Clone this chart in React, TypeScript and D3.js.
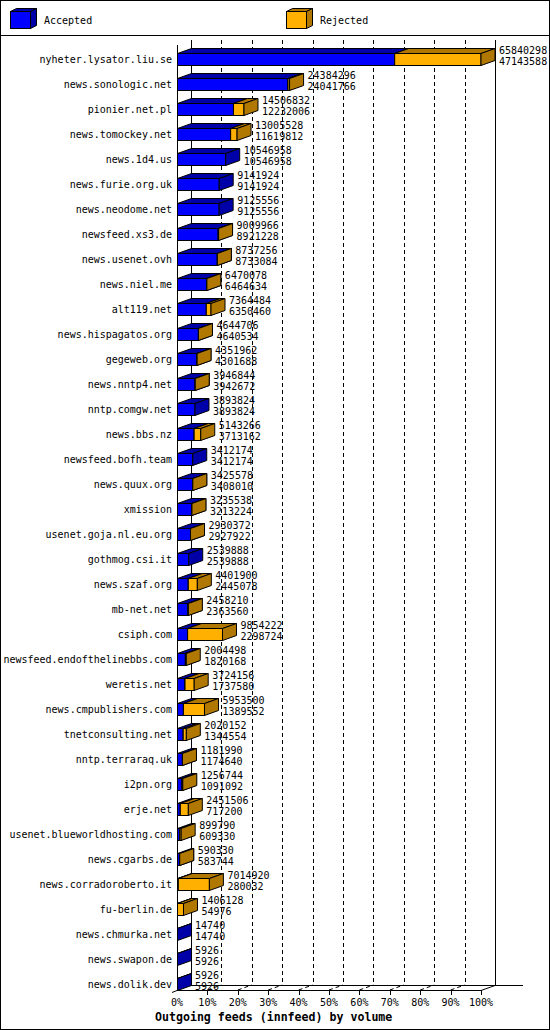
import React, { useEffect } from 'react';
import * as d3 from 'd3';

// innfeed outgoing volume per peer: total offered and accepted
const peers = [
  'nyheter.lysator.liu.se', 'news.sonologic.net', 'pionier.net.pl', 'news.tomockey.net',
  'news.1d4.us', 'news.furie.org.uk', 'news.neodome.net', 'newsfeed.xs3.de',
  'news.usenet.ovh', 'news.niel.me', 'alt119.net', 'news.hispagatos.org',
  'gegeweb.org', 'news.nntp4.net', 'nntp.comgw.net', 'news.bbs.nz',
  'newsfeed.bofh.team', 'news.quux.org', 'xmission', 'usenet.goja.nl.eu.org',
  'gothmog.csi.it', 'news.szaf.org', 'mb-net.net', 'csiph.com',
  'newsfeed.endofthelinebbs.com', 'weretis.net', 'news.cmpublishers.com', 'tnetconsulting.net',
  'nntp.terraraq.uk', 'i2pn.org', 'erje.net', 'usenet.blueworldhosting.com',
  'news.cgarbs.de', 'news.corradoroberto.it', 'fu-berlin.de', 'news.chmurka.net',
  'news.swapon.de', 'news.dolik.dev',
];

const totals = [
  65840298, 24384296, 14506832, 13005528,
  10546958, 9141924, 9125556, 9009966,
  8737256, 6470078, 7364484, 4644706,
  4351962, 3946844, 3893824, 5143266,
  3412174, 3425578, 3235538, 2930372,
  2539888, 4401900, 2458210, 9854222,
  2004498, 3724156, 5953500, 2020152,
  1181990, 1256744, 2451506, 899790,
  590330, 7014920, 1406128, 14740,
  5926, 5926,
];

const accepted = [
  47143588, 24041766, 12232006, 11619812,
  10546958, 9141924, 9125556, 8921228,
  8733084, 6464634, 6350460, 4640534,
  4301688, 3942672, 3893824, 3713162,
  3412174, 3408010, 3213224, 2927922,
  2539888, 2445078, 2363560, 2298724,
  1820168, 1737580, 1389552, 1344554,
  1174640, 1091092, 717200, 609330,
  583744, 280032, 54976, 14740,
  5926, 5926,
];

const pctTicks = [0, 10, 20, 30, 40, 50, 60, 70, 80, 90, 100];

const W = 550;
const H = 1030;
const DX = 14; // 3d depth
const DY = 5;
const FONT = "'DejaVu Sans Mono', 'Liberation Mono', monospace";

const BLUE = '#0000ff';
const BLUE_DARK = '#0000a8';
const ORANGE = '#ffb000';
const ORANGE_DARK = '#b07800';

const Box = ({ x0, x1, y0, y1, face, dark }: any) => {
  const top = `M${x0},${y0}L${x1},${y0}L${x1 + DX},${y0 - DY}L${x0 + DX},${y0 - DY}Z`;
  const side = `M${x1},${y0}L${x1 + DX},${y0 - DY}L${x1 + DX},${y1 - DY}L${x1},${y1}Z`;
  return (
    <g stroke="#000" strokeWidth={1} strokeLinejoin="miter">
      <rect x={x0} y={y0} width={Math.max(0, x1 - x0)} height={y1 - y0} fill={face} />
      <path d={top} fill={dark} />
      <path d={side} fill={dark} />
    </g>
  );
};

export default function App() {
  useEffect(() => {
    document.body.style.margin = '0';
  }, []);

  const x = d3.scaleLinear().domain([0, d3.max(totals) as number]).range([177, 481]);
  const pct = d3.scaleLinear().domain([0, 100]).range([177, 481]);
  const y = d3.scaleBand<string>().domain(peers).range([46.5, 996.5]).paddingInner(0);
  const half = y.bandwidth() / 2;

  const floorY = 990;
  const backTop = 40;

  return (
    <svg width={W} height={H} style={{ display: 'block', background: '#fff' }} fontFamily={FONT}>
      <rect x={0.5} y={0.5} width={W - 1} height={H - 1} fill="#fff" stroke="#000" />

      {/* legend */}
      <line x1={0} x2={W} y1={35.5} y2={35.5} stroke="#000" />
      {[
        { lx: 10, label: 'Accepted', face: BLUE, dark: BLUE_DARK },
        { lx: 286, label: 'Rejected', face: ORANGE, dark: ORANGE_DARK },
      ].map(l => (
        <g key={l.label}>
          <g stroke="#000">
            <rect x={l.lx + 0.5} y={11.5} width={20} height={17} fill={l.face} />
            <path d={`M${l.lx + 0.5},11.5L${l.lx + 20.5},11.5L${l.lx + 26.5},8.5L${l.lx + 6.5},8.5Z`} fill={l.dark} />
            <path d={`M${l.lx + 20.5},11.5L${l.lx + 26.5},8.5L${l.lx + 26.5},25.5L${l.lx + 20.5},28.5Z`} fill={l.dark} />
          </g>
          <text x={l.lx + 34} y={23.5} fontSize={10} fill="#000">{l.label}</text>
        </g>
      ))}

      {/* back plane grid */}
      <line x1={191.5} x2={191.5} y1={backTop} y2={floorY - DY} stroke="#000" />
      <line x1={495.5} x2={495.5} y1={backTop} y2={floorY - DY} stroke="#000" />
      {pctTicks.filter(p => p > 0 && p < 100).map(p => (
        <g key={p} stroke="#000" strokeDasharray="4,3">
          <line x1={Math.round(pct(p) + DX) + 0.5} x2={Math.round(pct(p) + DX) + 0.5} y1={backTop} y2={floorY - DY} />
          <line x1={pct(p)} y1={floorY} x2={pct(p) + DX} y2={floorY - DY} />
        </g>
      ))}
      <line x1={191} x2={523} y1={floorY - DY + 0.5} y2={floorY - DY + 0.5} stroke="#000" />

      {/* bars */}
      {peers.map((name, i) => {
        const c = (y(name) as number) + half;
        const y0 = Math.round(c - 6) + 0.5;
        const y1 = Math.round(c + 6) + 0.5;
        const xa = x(accepted[i]);
        const xt = x(totals[i]);
        return (
          <g key={name}>
            <Box x0={177.5} x1={Math.max(177.5, xa)} y0={y0} y1={y1} face={BLUE} dark={BLUE_DARK} />
            {totals[i] > accepted[i] && (
              <Box x0={Math.max(177.5, xa)} x1={Math.max(177.5, xt)} y0={y0} y1={y1} face={ORANGE} dark={ORANGE_DARK} />
            )}
          </g>
        );
      })}

      {/* front axes */}
      <line x1={177.5} x2={177.5} y1={45} y2={floorY} stroke="#000" />
      <line x1={177} x2={481} y1={floorY + 0.5} y2={floorY + 0.5} stroke="#000" />
      <line x1={481} y1={floorY + 0.5} x2={495} y2={floorY - DY + 0.5} stroke="#000" />
      <line x1={172} y1={floorY + 2.5} x2={177} y2={floorY + 0.5} stroke="#000" />
      {pctTicks.map(p => (
        <g key={p}>
          {p > 0 && (
            <line x1={Math.round(pct(p)) + 0.5} x2={Math.round(pct(p)) + 0.5} y1={floorY} y2={floorY + 5} stroke="#000" />
          )}
          <text x={pct(p)} y={1006} fontSize={10} textAnchor="middle" fill="#000">{p}%</text>
        </g>
      ))}

      {/* labels */}
      {peers.map((name, i) => {
        const c = (y(name) as number) + half;
        const lx = x(totals[i]) + DX + 4;
        return (
          <g key={name} fontSize={10} fill="#000">
            <text x={172} y={c + 3.5} textAnchor="end">{name}</text>
            <text x={lx} y={c - 5}>{totals[i]}</text>
            <text x={lx} y={c + 5.5}>{accepted[i]}</text>
          </g>
        );
      })}

      <text x={155} y={1021} fontSize={11.6} fontWeight="bold" fill="#000">
        Outgoing feeds (innfeed) by volume
      </text>
    </svg>
  );
}
